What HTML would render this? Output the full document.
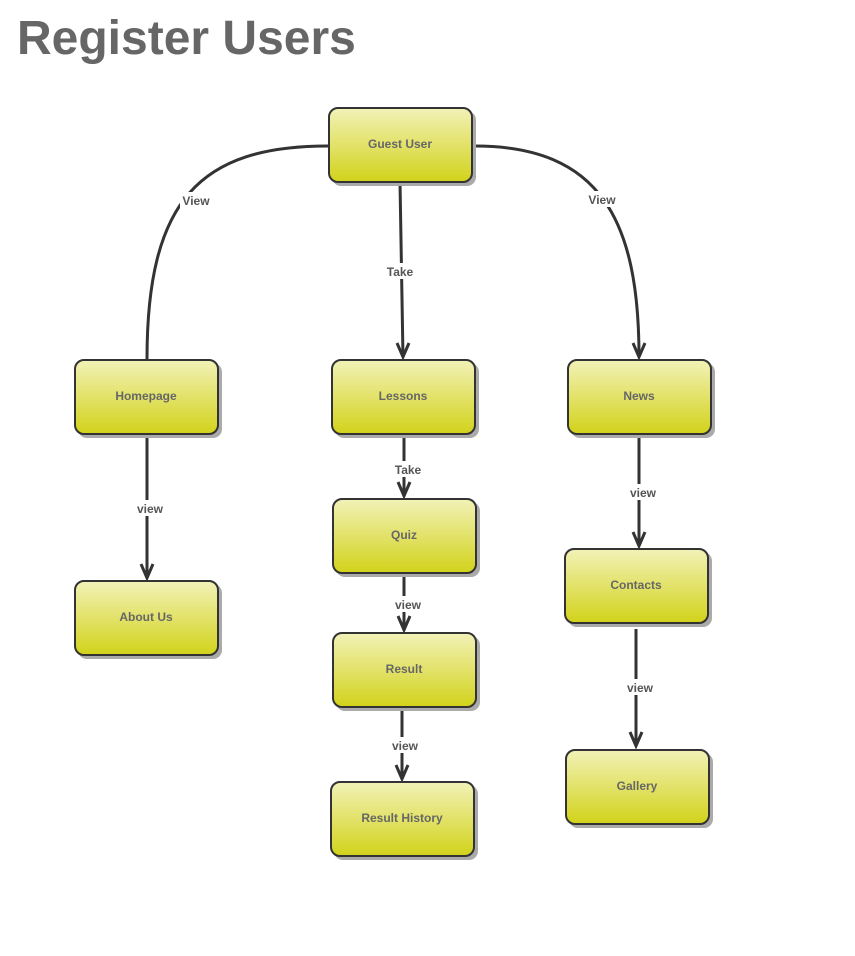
<!DOCTYPE html>
<html><head><meta charset="utf-8"><style>
body{margin:0;background:#fff;}
svg{display:block;font-family:"Liberation Sans",Arial,sans-serif;}
</style></head><body>
<svg width="855" height="956" viewBox="0 0 855 956" xmlns="http://www.w3.org/2000/svg">
<defs>
<linearGradient id="g" x1="0" y1="0" x2="0" y2="1">
<stop offset="0" stop-color="#f2f2b8"/><stop offset="1" stop-color="#d2d21a"/>
</linearGradient>
</defs>
<text x="17" y="54" font-size="48" font-weight="bold" fill="#666">Register Users</text>
<g fill="none" stroke="#333" stroke-width="3">
<path d="M328,146 C200,146 147,200 147,359"/>
<path d="M475,146 C600,146 639,220 639,357"/>
<path d="M400,182 L403,357"/>
<path d="M147,434 L147,578"/>
<path d="M404,438 L404,496"/>
<path d="M404,576 L404,630"/>
<path d="M402,710 L402,779"/>
<path d="M639,434 L639,546"/>
<path d="M636,629 L636,746"/>
</g>
<g fill="none" stroke="#333" stroke-width="3" stroke-linejoin="miter">
<path d="M397,343 L403,357 L409,343"/>
<path d="M633,343 L639,357 L645,343"/>
<path d="M141,564 L147,578 L153,564"/>
<path d="M398,482 L404,496 L410,482"/>
<path d="M398,616 L404,630 L410,616"/>
<path d="M396,765 L402,779 L408,765"/>
<path d="M633,532 L639,546 L645,532"/>
<path d="M630,732 L636,746 L642,732"/>
</g>
<g font-size="12" font-weight="bold" fill="#555" text-anchor="middle">
<rect x="180" y="192" width="32" height="16" fill="#fff"/><text x="196" y="205">View</text>
<rect x="586" y="191" width="32" height="16" fill="#fff"/><text x="602" y="204">View</text>
<rect x="384" y="263" width="32" height="16" fill="#fff"/><text x="400" y="276">Take</text>
<rect x="136" y="500" width="28" height="16" fill="#fff"/><text x="150" y="513">view</text>
<rect x="392" y="461" width="32" height="16" fill="#fff"/><text x="408" y="474">Take</text>
<rect x="394" y="596" width="28" height="16" fill="#fff"/><text x="408" y="609">view</text>
<rect x="391" y="737" width="28" height="16" fill="#fff"/><text x="405" y="750">view</text>
<rect x="629" y="484" width="28" height="16" fill="#fff"/><text x="643" y="497">view</text>
<rect x="626" y="679" width="28" height="16" fill="#fff"/><text x="640" y="692">view</text>
</g>
<g font-size="12" font-weight="bold" fill="#666" text-anchor="middle">
<g transform="translate(328,107)"><rect x="4" y="4" width="144" height="75" rx="9" fill="#aaa"/><rect x="1" y="1" width="143" height="74" rx="9" fill="url(#g)" stroke="#333" stroke-width="2"/><text x="72" y="41">Guest User</text></g>
<g transform="translate(74,359)"><rect x="4" y="4" width="144" height="75" rx="9" fill="#aaa"/><rect x="1" y="1" width="143" height="74" rx="9" fill="url(#g)" stroke="#333" stroke-width="2"/><text x="72" y="41">Homepage</text></g>
<g transform="translate(331,359)"><rect x="4" y="4" width="144" height="75" rx="9" fill="#aaa"/><rect x="1" y="1" width="143" height="74" rx="9" fill="url(#g)" stroke="#333" stroke-width="2"/><text x="72" y="41">Lessons</text></g>
<g transform="translate(567,359)"><rect x="4" y="4" width="144" height="75" rx="9" fill="#aaa"/><rect x="1" y="1" width="143" height="74" rx="9" fill="url(#g)" stroke="#333" stroke-width="2"/><text x="72" y="41">News</text></g>
<g transform="translate(74,580)"><rect x="4" y="4" width="144" height="75" rx="9" fill="#aaa"/><rect x="1" y="1" width="143" height="74" rx="9" fill="url(#g)" stroke="#333" stroke-width="2"/><text x="72" y="41">About Us</text></g>
<g transform="translate(332,498)"><rect x="4" y="4" width="144" height="75" rx="9" fill="#aaa"/><rect x="1" y="1" width="143" height="74" rx="9" fill="url(#g)" stroke="#333" stroke-width="2"/><text x="72" y="41">Quiz</text></g>
<g transform="translate(332,632)"><rect x="4" y="4" width="144" height="75" rx="9" fill="#aaa"/><rect x="1" y="1" width="143" height="74" rx="9" fill="url(#g)" stroke="#333" stroke-width="2"/><text x="72" y="41">Result</text></g>
<g transform="translate(330,781)"><rect x="4" y="4" width="144" height="75" rx="9" fill="#aaa"/><rect x="1" y="1" width="143" height="74" rx="9" fill="url(#g)" stroke="#333" stroke-width="2"/><text x="72" y="41">Result History</text></g>
<g transform="translate(564,548)"><rect x="4" y="4" width="144" height="75" rx="9" fill="#aaa"/><rect x="1" y="1" width="143" height="74" rx="9" fill="url(#g)" stroke="#333" stroke-width="2"/><text x="72" y="41">Contacts</text></g>
<g transform="translate(565,749)"><rect x="4" y="4" width="144" height="75" rx="9" fill="#aaa"/><rect x="1" y="1" width="143" height="74" rx="9" fill="url(#g)" stroke="#333" stroke-width="2"/><text x="72" y="41">Gallery</text></g>
</g>
</svg>
</body></html>
